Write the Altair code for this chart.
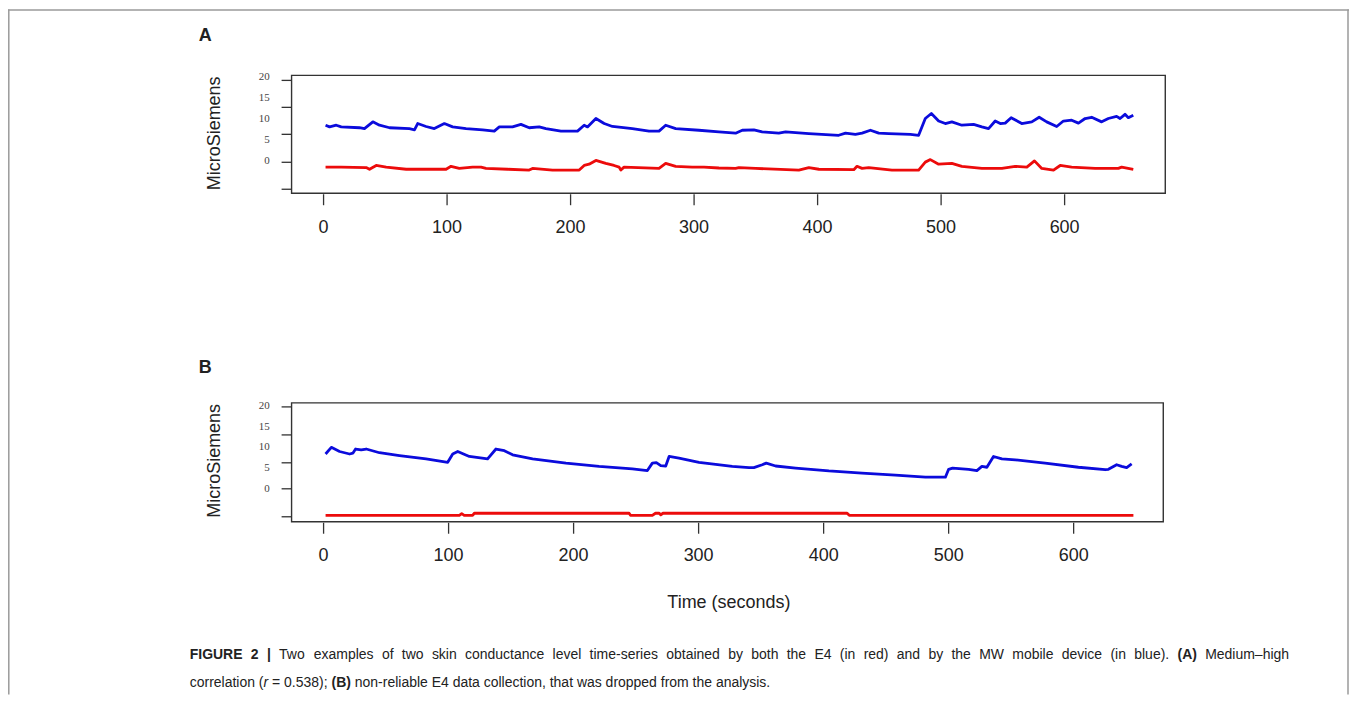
import altair as alt
import pandas as pd

# ---------------- data ----------------
# Panel A: MW device (blue) and E4 (red), time in seconds, values in MicroSiemens (label units)
A_BLUE_T = [1.6, 4.9, 10.3, 14.3, 29.1, 33.1, 39.9, 45.3, 53.4, 69.5, 73.6, 76.2, 83.0, 89.7, 97.8,
            104.5, 115.4, 128.8, 138.2, 142.3, 153.0, 159.8, 166.5, 174.6, 180.0, 192.2, 205.6, 211.0,
            213.7, 220.5, 227.2, 233.9, 250.0, 263.5, 271.6, 277.0, 285.1, 303.9, 320.1, 333.6, 339.0,
            348.4, 355.1, 368.6, 374.1, 392.9, 417.1, 422.6, 430.6, 436.0, 442.8, 449.5, 457.6, 475.1,
            481.8, 487.2, 492.1, 498.0, 503.4, 508.7, 516.8, 526.3, 533.0, 538.4, 543.8, 547.9, 551.9,
            556.7, 565.3, 573.4, 579.4, 585.5, 593.6, 599.0, 605.7, 611.2, 616.6, 621.9, 630.0, 635.4,
            642.1, 644.9, 648.9, 651.6, 655.6]
A_BLUE_V = [8.6, 8.2, 8.6, 8.2, 8.0, 7.8, 9.4, 8.6, 8.0, 7.8, 7.5, 9.0, 8.3, 7.8, 9.0,
            8.2, 7.8, 7.5, 7.2, 8.2, 8.2, 8.8, 8.0, 8.2, 7.8, 7.2, 7.2, 8.6,
            8.2, 10.2, 9.0, 8.3, 7.8, 7.2, 7.2, 8.6, 7.8, 7.4, 7.0, 6.7, 7.4,
            7.5, 7.0, 6.7, 7.0, 6.6, 6.2, 6.7, 6.4, 6.7, 7.4, 6.7, 6.6, 6.4,
            6.2, 10.2, 11.4, 9.6, 9.0, 9.4, 8.6, 8.8, 8.2, 7.8, 9.6, 9.0, 9.1,
            10.4, 9.0, 9.4, 10.5, 9.4, 8.3, 9.6, 9.8, 9.1, 10.2, 10.5, 9.4, 10.2,
            10.7, 10.2, 11.2, 10.4, 11.0]
A_RED_T = [1.6, 14.3, 34.5, 37.2, 42.6, 50.7, 66.9, 99.2, 103.2, 109.9, 120.7, 127.5, 131.5, 149.0,
           166.5, 169.2, 185.4, 207.0, 211.0, 215.0, 220.5, 228.5, 235.2, 239.3, 240.7, 243.3, 271.6,
           277.0, 285.1, 298.5, 308.0, 320.1, 333.6, 336.3, 349.8, 384.8, 392.9, 401.0, 429.3, 431.9,
           436.0, 441.4, 460.2, 481.8, 487.2, 491.3, 498.0, 508.7, 516.8, 533.0, 549.2, 560.0, 569.4,
           575.6, 581.5, 591.0, 596.4, 605.7, 624.7, 643.5, 646.2, 655.6]
A_RED_V = [-1.4, -1.4, -1.5, -1.9, -1.0, -1.4, -1.9, -1.9, -1.2, -1.7, -1.4, -1.4, -1.7, -1.9,
           -2.1, -1.7, -2.1, -2.1, -1.0, -0.7, 0.2, -0.5, -1.0, -1.4, -2.1, -1.4, -1.7,
           -0.5, -1.2, -1.4, -1.4, -1.6, -1.7, -1.5, -1.7, -2.1, -1.5, -1.9, -2.0, -1.2,
           -1.7, -1.5, -2.1, -2.1, -0.2, 0.4, -0.7, -0.5, -1.2, -1.7, -1.7, -1.2, -1.4,
           0.1, -1.7, -2.1, -1.0, -1.4, -1.7, -1.7, -1.4, -1.9]

# Panel B
B_BLUE_T = [1.6, 6.2, 12.8, 20.8, 23.4, 25.6, 30.1, 34.1, 44.7, 60.7, 82.0, 99.3, 103.3, 107.3, 116.6,
            131.2, 137.9, 144.6, 151.2, 167.2, 193.9, 220.4, 247.0, 259.0, 263.0, 266.2, 269.7, 273.7,
            276.4, 284.3, 300.3, 326.9, 340.3, 344.2, 350.9, 354.1, 361.6, 377.6, 404.2, 430.7, 457.4,
            481.4, 497.4, 500.0, 503.2, 516.0, 522.6, 526.6, 530.6, 535.9, 542.6, 553.3, 577.2, 603.8,
            625.2, 627.8, 634.4, 638.4, 642.4, 646.4]
B_BLUE_V = [8.4, 10.0, 9.0, 8.4, 8.6, 9.6, 9.4, 9.6, 8.7, 8.0, 7.2, 6.4, 8.4, 9.0, 7.8,
            7.2, 9.6, 9.2, 8.2, 7.2, 6.2, 5.4, 4.8, 4.4, 6.2, 6.3, 5.6, 5.5,
            7.8, 7.4, 6.4, 5.4, 5.1, 5.1, 5.8, 6.2, 5.5, 5.0, 4.3, 3.8, 3.3,
            2.8, 2.8, 4.7, 5.0, 4.7, 4.4, 5.4, 5.2, 7.8, 7.2, 7.0, 6.2, 5.2,
            4.6, 4.7, 5.8, 5.4, 5.1, 6.0]
B_RED_T = [1.6, 108.6, 110.5, 112.5, 119.2, 120.6, 244.4, 245.5, 263.0, 265.5, 268.5, 269.7, 271.5,
           418.8, 420.5, 647.8]
B_RED_V = [-6.4, -6.4, -6.0, -6.4, -6.4, -5.9, -5.9, -6.4, -6.4, -5.9, -5.9, -6.3, -5.9,
           -5.9, -6.4, -6.4]

# axes
X_TICKS = [0, 100, 200, 300, 400, 500, 600]
Y_LABELS = [0, 5, 10, 15, 20]
A_Y_TICKS = [-6.67, -0.24, 6.43, 12.86, 19.29]
B_Y_TICKS = [-6.75, 0.0, 6.27, 13.0, 19.76]
A_XLIM = [-25.9, 681.5]
A_YLIM = [-7.62, 20.48]
B_XLIM = [-25.6, 671.7]
B_YLIM = [-7.95, 20.72]

# caption (word, style); line 1 is justified, line 2 is not
CAPTION_1 = [("FIGURE", "b"), ("2", "b"), ("|", "b"), ("Two", "r"), ("examples", "r"), ("of", "r"),
             ("two", "r"), ("skin", "r"), ("conductance", "r"), ("level", "r"), ("time-series", "r"),
             ("obtained", "r"), ("by", "r"), ("both", "r"), ("the", "r"), ("E4", "r"), ("(in", "r"),
             ("red)", "r"), ("and", "r"), ("by", "r"), ("the", "r"), ("MW", "r"), ("mobile", "r"),
             ("device", "r"), ("(in", "r"), ("blue).", "r"), ("(A)", "b"), ("Medium\u2013high", "r")]
CAPTION_2 = [("correlation (", "r"), ("r", "i"), (" = 0.538); ", "r"), ("(B)", "b"),
             (" non-reliable E4 data collection, that was dropped from the analysis.", "r")]

BLUE = "#0b0bdc"
RED = "#ec0b0b"
INK = "#222222"
SANS = "Liberation Sans, Arial, sans-serif"
SERIF = "Liberation Serif, Times New Roman, serif"

W, H = 1343, 687

# Arial / Liberation Sans advance widths (1/1000 em), used to lay out the caption words
_REG = dict(zip("abcdefghijklmnopqrstuvwxyz",
                [556, 556, 500, 556, 556, 278, 556, 556, 222, 222, 500, 222, 833, 556, 556, 556, 556,
                 333, 500, 278, 556, 500, 722, 500, 500, 500]))
_REG.update(dict(zip("ABCDEFGHIJKLMNOPQRSTUVWXYZ",
                     [667, 667, 722, 722, 667, 611, 778, 722, 278, 500, 667, 556, 833, 722, 778, 667,
                      778, 722, 667, 611, 722, 667, 944, 667, 667, 611])))
_REG.update({c: 556 for c in "0123456789"})
_REG.update({" ": 278, "(": 333, ")": 333, "-": 333, ".": 278, ",": 278, ";": 278, "=": 584,
             "|": 260, "\u2013": 556})
_BOLD = dict(_REG)
_BOLD.update(dict(zip("abcdefghijklmnopqrstuvwxyz",
                      [556, 611, 556, 611, 556, 333, 611, 611, 278, 278, 556, 278, 889, 611, 611, 611,
                       611, 389, 556, 333, 611, 556, 778, 556, 556, 500])))
_BOLD.update({"A": 722, "B": 722, "|": 280, "R": 722, "U": 722})


def text_w(s, style, size):
    table = _BOLD if style == "b" else _REG
    return sum(table.get(c, 556) for c in s) * size / 1000.0


def layout_caption(size=14.0):
    rows = []
    x0, x1 = 182.0, 1283.0
    widths = [text_w(w, s, size) for w, s in CAPTION_1]
    gap = (x1 - x0 - sum(widths)) / (len(CAPTION_1) - 1)
    x = x0
    for (w, s), wd in zip(CAPTION_1, widths):
        rows.append({"px": x, "py": 647.0, "s": w, "st": s})
        x += wd + gap
    x = x0
    for w, s in CAPTION_2:
        lead = len(w) - len(w.lstrip(" "))
        core = w.strip(" ")
        rows.append({"px": x + text_w(" " * lead, s, size), "py": 676.0, "s": core, "st": s})
        x += text_w(w, s, size)
    return pd.DataFrame(rows)


def one():
    return pd.DataFrame({"k": [0]})


def panel(bt, bv, rt, rv, xlim, ylim, xr, yr, yticks, tick_y, label_y):
    xs = alt.Scale(domain=xlim, range=xr, nice=False, zero=False)
    ys = alt.Scale(domain=ylim, range=yr, nice=False, zero=False)

    blue = alt.Chart(pd.DataFrame({"t": bt, "v": bv})).mark_line(
        color=BLUE, strokeWidth=2.8, strokeJoin="round"
    ).encode(x=alt.X("t:Q", scale=xs, axis=None), y=alt.Y("v:Q", scale=ys, axis=None))
    red = alt.Chart(pd.DataFrame({"t": rt, "v": rv})).mark_line(
        color=RED, strokeWidth=2.8, strokeJoin="round"
    ).encode(x=alt.X("t:Q", scale=xs, axis=None), y=alt.Y("v:Q", scale=ys, axis=None))

    box = alt.Chart(pd.DataFrame({"x0": [xlim[0]], "x1": [xlim[1]],
                                  "y0": [ylim[0]], "y1": [ylim[1]]})).mark_rect(
        fillOpacity=0, stroke="#333333", strokeWidth=1.4
    ).encode(x=alt.X("x0:Q", scale=xs, axis=None), x2="x1:Q",
             y=alt.Y("y0:Q", scale=ys, axis=None), y2="y1:Q")

    xt_df = pd.DataFrame({"t": X_TICKS, "lab": [str(v) for v in X_TICKS]})
    xticks = alt.Chart(xt_df).mark_rule(color="#333333", strokeWidth=1.3).encode(
        x=alt.X("t:Q", scale=xs, axis=None), y=alt.value(tick_y[0]), y2=alt.value(tick_y[1]))
    xlabels = alt.Chart(xt_df).mark_text(
        font=SANS, fontSize=18, color=INK, baseline="middle", align="center"
    ).encode(x=alt.X("t:Q", scale=xs, axis=None), y=alt.value(label_y), text="lab:N")

    yticks_c = alt.Chart(pd.DataFrame({"v": yticks})).mark_rule(color="#333333", strokeWidth=1.3).encode(
        y=alt.Y("v:Q", scale=ys, axis=None), x=alt.value(xr[0] - 10), x2=alt.value(xr[0]))
    ylabels = alt.Chart(pd.DataFrame({"v": Y_LABELS, "lab": [str(v) for v in Y_LABELS]})).mark_text(
        font=SERIF, fontSize=11, color="#444444", baseline="middle", align="right"
    ).encode(y=alt.Y("v:Q", scale=ys, axis=None), x=alt.value(xr[0] - 22), text="lab:N")

    return alt.layer(box, blue, red, xticks, xlabels, yticks_c, ylabels)


def txt(s, x, y, size, weight="normal", style="normal", align="left", angle=0, font=SANS, color=INK):
    return alt.Chart(pd.DataFrame({"s": [s]})).mark_text(
        align=align, baseline="middle", fontSize=size, fontWeight=weight,
        fontStyle=style, font=font, color=color, angle=angle
    ).encode(x=alt.value(x), y=alt.value(y), text="s:N")


pA = panel(A_BLUE_T, A_BLUE_V, A_RED_T, A_RED_V, A_XLIM, A_YLIM,
           [284, 1159], [185, 67], A_Y_TICKS, [186, 197], 220)
pB = panel(B_BLUE_T, B_BLUE_V, B_RED_T, B_RED_V, B_XLIM, B_YLIM,
           [284, 1157], [514, 395], B_Y_TICKS, [515, 526], 548)

frame_left = alt.Chart(one()).mark_rule(color="#9a9a9a", strokeWidth=1.5).encode(
    x=alt.value(0.8), y=alt.value(1), y2=alt.value(H))
frame_top = alt.Chart(one()).mark_rule(color="#9a9a9a", strokeWidth=1.5).encode(
    x=alt.value(0), x2=alt.value(W), y=alt.value(1.5))
frame_right = alt.Chart(one()).mark_rule(color="#9a9a9a", strokeWidth=1.5).encode(
    x=alt.value(W - 1), y=alt.value(1), y2=alt.value(H))

texts = [
    txt("A", 191, 28, 18, weight="bold"),
    txt("B", 191, 360, 18, weight="bold"),
    txt("MicroSiemens", 207, 125, 18, angle=270, align="center"),
    txt("MicroSiemens", 207, 453, 18, angle=270, align="center"),
    txt("Time (seconds)", 722, 595, 18, align="center"),
]

cap = layout_caption()
pix = alt.Scale(domain=[0, W], range=[0, W], nice=False, zero=False)
piy = alt.Scale(domain=[0, H], range=[0, H], nice=False, zero=False)
cap_layers = []
for st, weight, fstyle in [("r", "normal", "normal"), ("b", "bold", "normal"), ("i", "normal", "italic")]:
    sub = cap[cap["st"] == st]
    cap_layers.append(
        alt.Chart(sub).mark_text(align="left", baseline="middle", fontSize=14, font=SANS,
                                 color=INK, fontWeight=weight, fontStyle=fstyle)
        .encode(x=alt.X("px:Q", scale=pix, axis=None), y=alt.Y("py:Q", scale=piy, axis=None),
                text="s:N")
    )
caption = alt.layer(*cap_layers)

chart = alt.layer(
    frame_left, frame_top, frame_right, pA, pB, caption, *texts
).resolve_scale(x="independent", y="independent").properties(
    width=W, height=H, autosize=alt.AutoSizeParams(type="none"), padding=0
).configure_view(stroke=None)

chart.save("out.html", embed_options={"renderer": "svg", "actions": False})
